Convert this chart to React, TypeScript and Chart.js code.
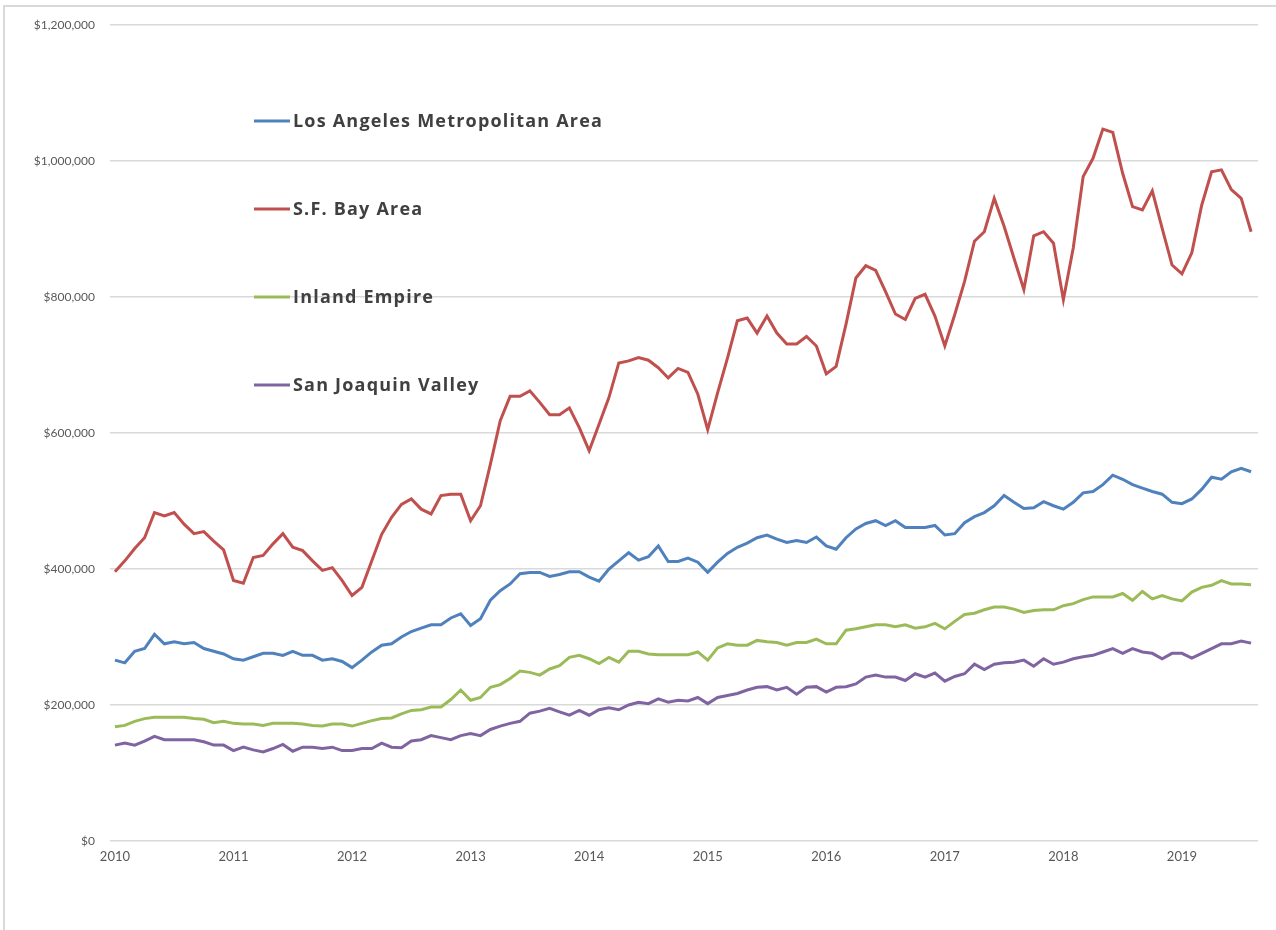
import React, { useEffect, useRef } from "react";
import { Chart, registerables } from "chart.js";

Chart.register(...registerables);

// ---- data (values in thousands of dollars, monthly Jan 2010 – Aug 2019) ----
const YEAR_LABELS = ["2010", "2011", "2012", "2013", "2014", "2015", "2016", "2017", "2018", "2019"];
const SERIES_NAMES = ["Los Angeles Metropolitan Area", "S.F. Bay Area", "Inland Empire", "San Joaquin Valley"];
const SERIES_COLORS = ["#4F81BD", "#C0504D", "#9BBB59", "#8064A2"];
const Y_TICKS = [0, 200000, 400000, 600000, 800000, 1000000, 1200000];

const LA_K = [
  266, 262, 279, 283, 304, 290, 293, 290, 292, 283, 279, 275,
  268, 266, 271, 276, 276, 273, 279, 273, 273, 266, 268, 264,
  255, 266, 278, 288, 290, 300, 308, 313, 318, 318, 328, 334,
  317, 327, 354, 368, 378, 393, 395, 395, 389, 392, 396, 396,
  388, 382, 400, 412, 424, 413, 418, 434, 411, 411, 416, 410,
  395, 410, 423, 432, 438, 446, 450, 444, 439, 442, 439, 447,
  434, 429, 446, 459, 467, 471, 464, 471, 461, 461, 461, 464,
  450, 452, 468, 477, 483, 493, 508, 498, 489, 490, 499, 493,
  488, 498, 512, 514, 524, 538, 532, 524, 519, 514, 510, 498,
  496, 503, 517, 535, 532, 543, 548, 543,
];

const SF_K = [
  396, 412, 430, 446, 483, 478, 483, 466, 452, 455, 441, 428,
  383, 379, 417, 420, 437, 452, 432, 427, 412, 398, 402, 383,
  361, 373, 412, 451, 476, 495, 503, 488, 481, 508, 510, 510,
  471, 493, 554, 618, 654, 654, 662, 645, 627, 627, 637, 608,
  574, 613, 652, 703, 706, 711, 707, 696, 681, 695, 689, 657,
  605, 659, 710, 765, 769, 747, 772, 747, 731, 731, 742, 728,
  687, 698, 760, 828, 846, 839, 808, 775, 767, 798, 804, 772,
  728, 774, 823, 882, 896, 945, 904, 857, 811, 890, 896, 879,
  796, 872, 977, 1004, 1047, 1042, 982, 933, 928, 956, 901, 847,
  834, 865, 935, 984, 987, 958, 945, 896,
];

const IE_K = [
  168, 170, 176, 180, 182, 182, 182, 182, 180, 179, 174, 176,
  173, 172, 172, 170, 173, 173, 173, 172, 170, 169, 172, 172,
  169, 173, 177, 180, 181, 187, 192, 193, 197, 197, 208, 222,
  207, 211, 226, 230, 239, 250, 248, 244, 253, 258, 270, 273,
  268, 261, 270, 263, 279, 279, 275, 274, 274, 274, 274, 278,
  266, 284, 290, 288, 288, 295, 293, 292, 288, 292, 292, 297,
  290, 290, 310, 312, 315, 318, 318, 315, 318, 313, 315, 320,
  312, 323, 333, 335, 340, 344, 344, 341, 336, 339, 340, 340,
  346, 349, 355, 359, 359, 359, 364, 354, 367, 356, 361, 356,
  353, 366, 373, 376, 383, 378, 378, 377,
];

const SJV_K = [
  141, 144, 141, 147, 154, 149, 149, 149, 149, 146, 141, 141,
  133, 138, 134, 131, 136, 142, 132, 138, 138, 136, 138, 133,
  133, 136, 136, 144, 138, 137, 147, 149, 155, 152, 149, 155,
  158, 155, 164, 169, 173, 176, 188, 191, 195, 190, 185, 192,
  185, 193, 196, 193, 200, 204, 202, 209, 204, 207, 206, 211,
  202, 211, 214, 217, 222, 226, 227, 222, 226, 216, 226, 227,
  219, 226, 227, 231, 241, 244, 241, 241, 236, 246, 241, 247,
  235, 242, 246, 260, 252, 260, 262, 263, 266, 257, 268, 260,
  263, 268, 271, 273, 278, 283, 276, 283, 278, 276, 268, 276,
  276, 269, 276, 283, 290, 290, 294, 291,
];

const SERIES_K = [LA_K, SF_K, IE_K, SJV_K];

const AXIS_FONT = "Lato, 'Open Sans', sans-serif";
const LEGEND_FONT = "'Open Sans', Lato, sans-serif";

const legendPlugin = {
  id: "sideLegend",
  afterDraw(chart: any, _args: any, opts: any) {
    const { ctx, chartArea } = chart;
    ctx.save();
    chart.data.datasets.forEach((ds: any, i: number) => {
      const x = chartArea.left + opts.offsetX;
      const y = chartArea.top + opts.offsetY + i * opts.rowGap;
      ctx.strokeStyle = ds.borderColor;
      ctx.lineWidth = 3;
      ctx.beginPath();
      ctx.moveTo(x, y);
      ctx.lineTo(x + opts.lineLen, y);
      ctx.stroke();
      ctx.fillStyle = "#404040";
      ctx.font = `bold ${opts.fontSize}px ${LEGEND_FONT}`;
      if ("letterSpacing" in ctx) (ctx as any).letterSpacing = opts.letterSpacing;
      ctx.textBaseline = "middle";
      ctx.textAlign = "left";
      ctx.fillText(ds.label, x + opts.lineLen + 3, y + 1);
    });
    ctx.restore();
  },
};

export default function App() {
  const ref = useRef<HTMLCanvasElement | null>(null);

  useEffect(() => {
    if (!ref.current) return;
    const datasets = SERIES_K.map((arr, s) => ({
      label: SERIES_NAMES[s],
      data: arr.map((v, i) => ({ x: i, y: v * 1000 })),
      borderColor: SERIES_COLORS[s],
      backgroundColor: SERIES_COLORS[s],
      borderWidth: 3,
      pointRadius: 0,
      tension: 0,
    }));
    const chart = new Chart(ref.current, {
      type: "line",
      data: { datasets },
      plugins: [legendPlugin],
      options: {
        animation: false,
        responsive: false,
        layout: { padding: { left: 0, right: 18, top: 25, bottom: 0 } },
        plugins: {
          legend: { display: false },
          tooltip: { enabled: false },
          sideLegend: { offsetX: 144, offsetY: 96, rowGap: 88, lineLen: 36, fontSize: 18, letterSpacing: "1.2px" },
        } as any,
        scales: {
          x: {
            type: "linear",
            min: -0.5,
            max: 115.7,
            grid: { display: false, drawTicks: false },
            border: { display: false },
            afterBuildTicks: (scale: any) => {
              scale.ticks = YEAR_LABELS.map((_, k) => ({ value: k * 12 }));
            },
            afterFit: (scale: any) => {
              scale.height = 89;
            },
            ticks: {
              autoSkip: false,
              maxRotation: 0,
              padding: 8,
              color: "#595959",
              font: { family: AXIS_FONT, size: 13 },
              callback: (v: any) => YEAR_LABELS[Math.round(Number(v) / 12)] ?? "",
            },
          },
          y: {
            min: 0,
            max: 1200000,
            afterBuildTicks: (scale: any) => {
              scale.ticks = Y_TICKS.map((v) => ({ value: v }));
            },
            afterFit: (scale: any) => {
              scale.width = 110;
            },
            grid: { color: "#D9D9D9", lineWidth: 1.5, drawTicks: false },
            border: { display: false },
            ticks: {
              padding: 15,
              color: "#595959",
              font: { family: AXIS_FONT, size: 12 },
              callback: (v: any) => "$" + Number(v).toLocaleString("en-US"),
            },
          },
        },
      },
    });
    return () => chart.destroy();
  }, []);

  return (
    <div style={{ position: "absolute", left: 0, top: 0, width: 1276, height: 930, background: "#fff", overflow: "hidden" }}>
      <div
        style={{
          position: "absolute",
          left: 3,
          top: 5,
          width: 1273,
          height: 925,
          borderLeft: "2px solid #D9D9D9",
          borderTop: "2px solid #D9D9D9",
          boxSizing: "border-box",
        }}
      />
      <canvas ref={ref} width={1276} height={930} style={{ position: "absolute", left: 0, top: 0 }} />
    </div>
  );
}
